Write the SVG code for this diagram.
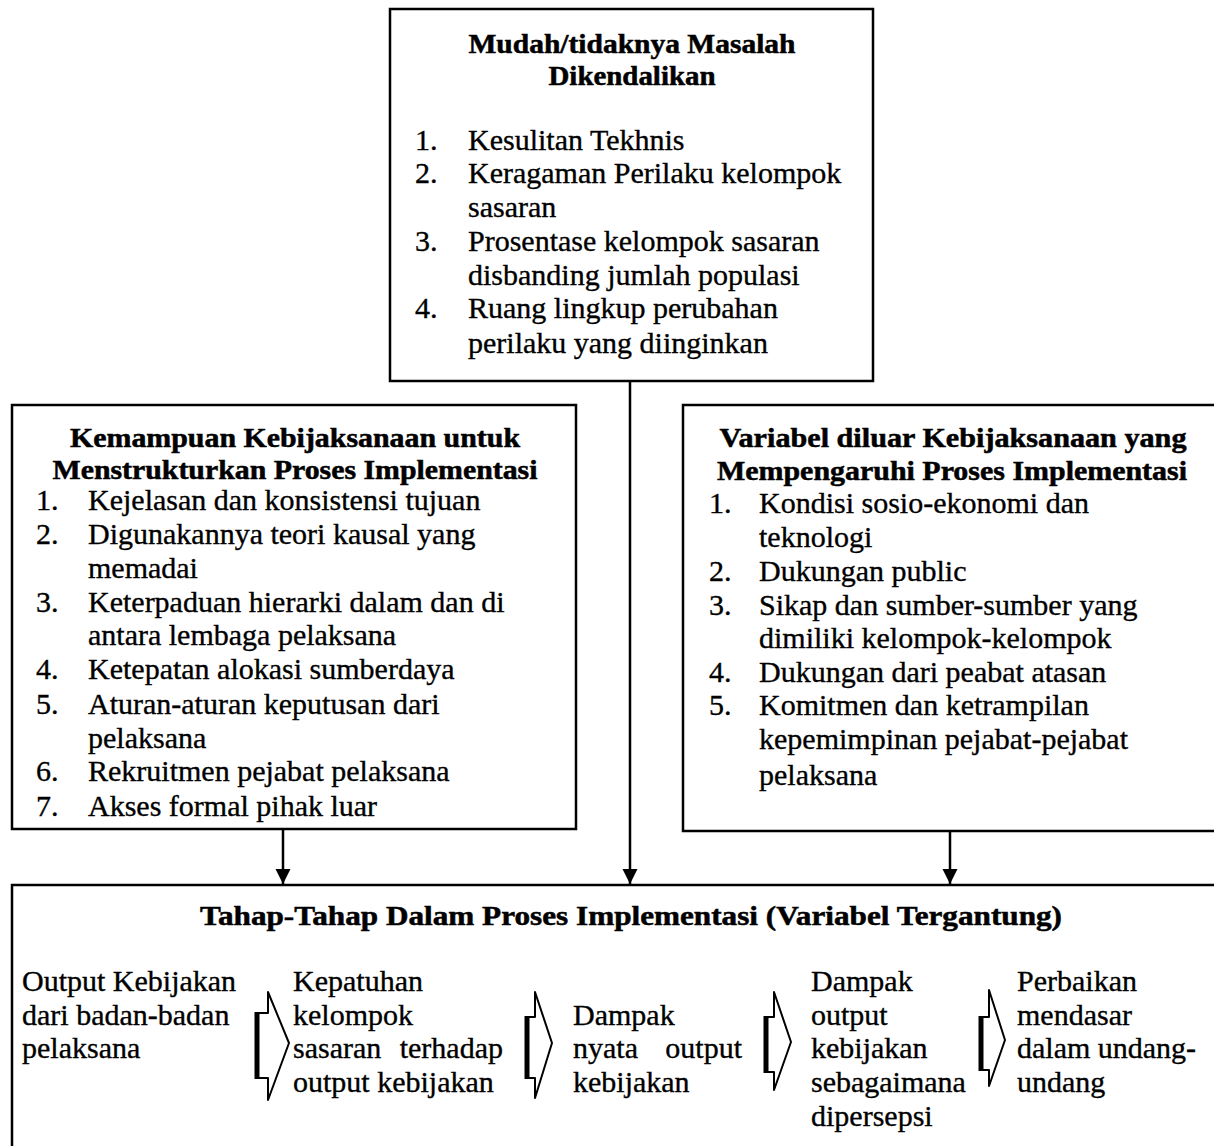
<svg xmlns="http://www.w3.org/2000/svg" width="1214" height="1146" viewBox="0 0 1214 1146">
<defs>
<style>
text{font-family:"Liberation Serif","Times New Roman",serif;font-size:30px;fill:#000;stroke:#000;stroke-width:0.35}
.t{font-weight:bold;font-size:27px;stroke-width:0.5}
.c{text-anchor:middle}
.e{text-anchor:end}
.box{fill:#fff;stroke:#000;stroke-width:2.5}
.ln{stroke:#000;stroke-width:2.5;fill:none}
.ba{fill:#fff;stroke:#000;stroke-width:2;stroke-linejoin:round}
.bk{stroke:#000;stroke-width:5;fill:none}
</style>
<marker id="ah" viewBox="0 0 10 10" refX="10" refY="5" markerWidth="6" markerHeight="6.5" markerUnits="strokeWidth" orient="auto">
<path d="M0,0 L10,5 L0,10 Z" fill="#000"/>
</marker>
</defs>
<rect width="1214" height="1146" fill="#fff"/>

<g id="connectors">
<line class="ln" x1="283" y1="829" x2="283" y2="884" marker-end="url(#ah)"/>
<line class="ln" x1="630" y1="381" x2="630" y2="884" marker-end="url(#ah)"/>
<line class="ln" x1="950" y1="831" x2="950" y2="884" marker-end="url(#ah)"/>
</g>

<g id="node-top">
<rect class="box" x="390" y="9" width="483" height="372"/>
<text class="t c" x="632" y="53" textLength="327" lengthAdjust="spacingAndGlyphs">Mudah/tidaknya Masalah</text>
<text class="t c" x="632" y="85" textLength="167" lengthAdjust="spacingAndGlyphs">Dikendalikan</text>
<text x="415" y="150">1.</text><text x="468" y="150">Kesulitan Tekhnis</text>
<text x="415" y="183">2.</text><text x="468" y="183">Keragaman Perilaku  kelompok</text>
<text x="468" y="217">sasaran</text>
<text x="415" y="251">3.</text><text x="468" y="251">Prosentase kelompok sasaran</text>
<text x="468" y="285">disbanding jumlah populasi</text>
<text x="415" y="318">4.</text><text x="468" y="318">Ruang lingkup perubahan</text>
<text x="468" y="353">perilaku yang diinginkan</text>
</g>

<g id="node-left">
<rect class="box" x="12" y="405" width="564" height="424"/>
<text class="t c" x="295" y="447" textLength="450" lengthAdjust="spacingAndGlyphs">Kemampuan Kebijaksanaan untuk</text>
<text class="t c" x="295" y="479" textLength="485" lengthAdjust="spacingAndGlyphs">Menstrukturkan Proses Implementasi</text>
<text x="36" y="510">1.</text><text x="88" y="510">Kejelasan dan konsistensi tujuan</text>
<text x="36" y="544">2.</text><text x="88" y="544">Digunakannya teori kausal yang</text>
<text x="88" y="578">memadai</text>
<text x="36" y="612">3.</text><text x="88" y="612">Keterpaduan hierarki dalam dan di</text>
<text x="88" y="645">antara lembaga pelaksana</text>
<text x="36" y="679">4.</text><text x="88" y="679">Ketepatan alokasi sumberdaya</text>
<text x="36" y="714">5.</text><text x="88" y="714">Aturan-aturan keputusan dari</text>
<text x="88" y="748">pelaksana</text>
<text x="36" y="781">6.</text><text x="88" y="781">Rekruitmen pejabat pelaksana</text>
<text x="36" y="816">7.</text><text x="88" y="816">Akses formal pihak luar</text>
</g>

<g id="node-right">
<path class="box" d="M1220,405 H683 V831 H1220"/>
<text class="t c" x="953" y="447" textLength="467" lengthAdjust="spacingAndGlyphs">Variabel diluar Kebijaksanaan yang</text>
<text class="t c" x="952" y="480" textLength="470" lengthAdjust="spacingAndGlyphs">Mempengaruhi Proses Implementasi</text>
<text x="709" y="513">1.</text><text x="759" y="513">Kondisi sosio-ekonomi dan</text>
<text x="759" y="547">teknologi</text>
<text x="709" y="581">2.</text><text x="759" y="581">Dukungan public</text>
<text x="709" y="615">3.</text><text x="759" y="615">Sikap dan sumber-sumber yang</text>
<text x="759" y="648">dimiliki kelompok-kelompok</text>
<text x="709" y="682">4.</text><text x="759" y="682">Dukungan dari peabat atasan</text>
<text x="709" y="715">5.</text><text x="759" y="715">Komitmen dan ketrampilan</text>
<text x="759" y="749">kepemimpinan pejabat-pejabat</text>
<text x="759" y="785">pelaksana</text>
</g>

<g id="node-bottom">
<path class="box" d="M1220,885 H12 V1150"/>
<text class="t c" x="631" y="925" textLength="862" lengthAdjust="spacingAndGlyphs">Tahap-Tahap Dalam Proses Implementasi (Variabel Tergantung)</text>
<g id="stage-1">
<text x="22" y="991">Output Kebijakan</text>
<text x="22" y="1025">dari badan-badan</text>
<text x="22" y="1058">pelaksana</text>
</g>
<g id="arrow-1">
<path class="ba" d="M257,1013 H268 V992 L289,1043 L268,1100 V1078 H257 Z"/>
<line class="bk" x1="257" y1="1012" x2="257" y2="1079"/>
</g>
<g id="stage-2">
<text x="293" y="991">Kepatuhan</text>
<text x="293" y="1025">kelompok</text>
<text x="293" y="1058">sasaran</text><text class="e" x="503" y="1058">terhadap</text>
<text x="293" y="1092">output kebijakan</text>
</g>
<g id="arrow-2">
<path class="ba" d="M527,1017 H535 V992 L552,1043 L535,1098 V1078 H527 Z"/>
<line class="bk" x1="527" y1="1016" x2="527" y2="1079"/>
</g>
<g id="stage-3">
<text x="573" y="1025">Dampak</text>
<text x="573" y="1058">nyata</text><text class="e" x="742" y="1058">output</text>
<text x="573" y="1092">kebijakan</text>
</g>
<g id="arrow-3">
<path class="ba" d="M766,1017 H774 V992 L791,1042 L774,1090 V1072 H766 Z"/>
<line class="bk" x1="766" y1="1016" x2="766" y2="1073"/>
</g>
<g id="stage-4">
<text x="811" y="991">Dampak</text>
<text x="811" y="1025">output</text>
<text x="811" y="1058">kebijakan</text>
<text x="811" y="1092">sebagaimana</text>
<text x="811" y="1126">dipersepsi</text>
</g>
<g id="arrow-4">
<path class="ba" d="M981,1017 H989 V990 L1005,1040 L989,1086 V1070 H981 Z"/>
<line class="bk" x1="981" y1="1016" x2="981" y2="1071"/>
</g>
<g id="stage-5">
<text x="1017" y="991">Perbaikan</text>
<text x="1017" y="1025">mendasar</text>
<text x="1017" y="1058">dalam undang-</text>
<text x="1017" y="1092">undang</text>
</g>
</g>
</svg>
